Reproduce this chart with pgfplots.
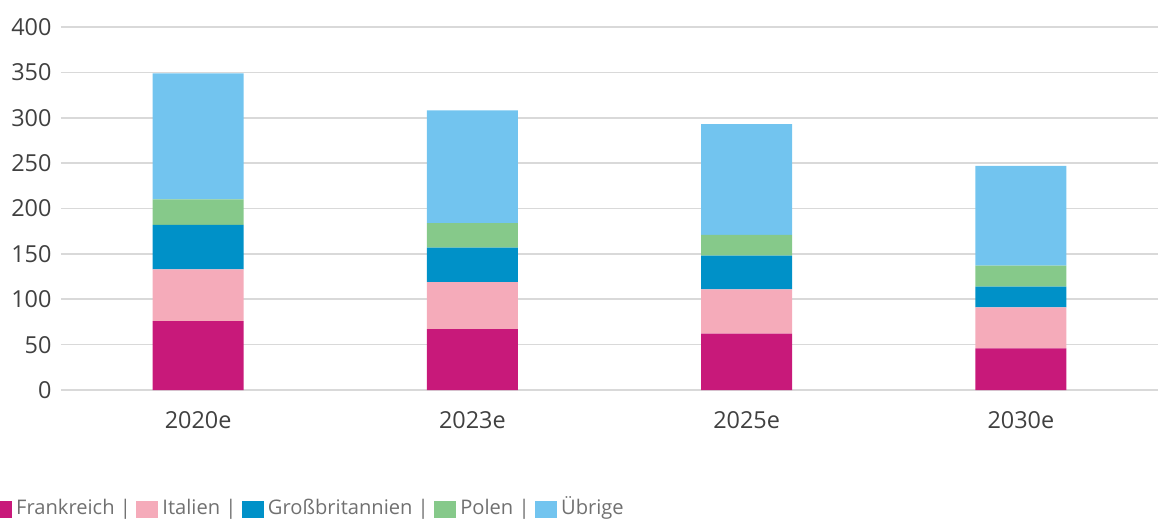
\documentclass[border=0pt]{standalone}
\usepackage{pgfplots}
\pgfplotsset{compat=1.18}
\usepackage{fontspec}
\setmainfont{Open Sans}
\definecolor{cFR}{HTML}{C8197A}
\definecolor{cIT}{HTML}{F5ABBA}
\definecolor{cGB}{HTML}{0091C8}
\definecolor{cPL}{HTML}{86C98A}
\definecolor{cUE}{HTML}{72C4EF}
\definecolor{gridc}{HTML}{D9D9D9}
\definecolor{ticktxt}{HTML}{404040}
\definecolor{legtxt}{HTML}{707070}
\begin{document}
\begin{tikzpicture}
\begin{axis}[
    scale only axis,
    width=1097bp,
    height=363bp,
    ybar stacked,
    bar width=91bp,
    xmin=-0.5, xmax=3.5,
    ymin=0, ymax=400,
    ytick={0,50,...,400},
    xtick=data,
    xticklabels={2020e,2023e,2025e,2030e},
    axis line style={draw=none},
    major tick length=0pt,
    ymajorgrids,
    grid style={gridc, line width=1.6bp},
    tick label style={font=\fontsize{23.5}{28}\selectfont, text=ticktxt},
    /pgf/number format/assume math mode=true,
    yticklabel style={xshift=-6bp},
    xticklabel style={yshift=-18bp},
    legend columns=5,
    legend style={at={(rel axis cs:0,0)}, anchor=west, yshift=-119bp, xshift=-71bp,
        draw=none, fill=none, inner sep=0pt,
        font=\fontsize{20.2}{24}\selectfont, text=legtxt,
        /tikz/every even column/.append style={column sep=1.5bp},
        /tikz/every odd column/.append style={column sep=0bp},
        nodes={inner xsep=4bp, text height=15bp, text depth=4bp, anchor=base west}},
    legend image code/.code={\fill[#1] (0bp,-3bp) rectangle (22bp,14bp);},
]
\addplot+[fill=cFR, draw=none] coordinates {(0,76) (1,67) (2,62) (3,46)};
\addplot+[fill=cIT, draw=none] coordinates {(0,57) (1,52) (2,49) (3,45)};
\addplot+[fill=cGB, draw=none] coordinates {(0,49) (1,38) (2,37) (3,23)};
\addplot+[fill=cPL, draw=none] coordinates {(0,28) (1,27) (2,23) (3,23)};
\addplot+[fill=cUE, draw=none] coordinates {(0,139) (1,124) (2,122) (3,110)};
\legend{Frankreich |, Italien |, Großbritannien |, Polen |, Übrige}
\end{axis}
\pgfresetboundingbox
\path[use as bounding box] (current axis.south west) ++(-61bp,-129bp) rectangle ++(1158bp,519bp);
\end{tikzpicture}
\end{document}
